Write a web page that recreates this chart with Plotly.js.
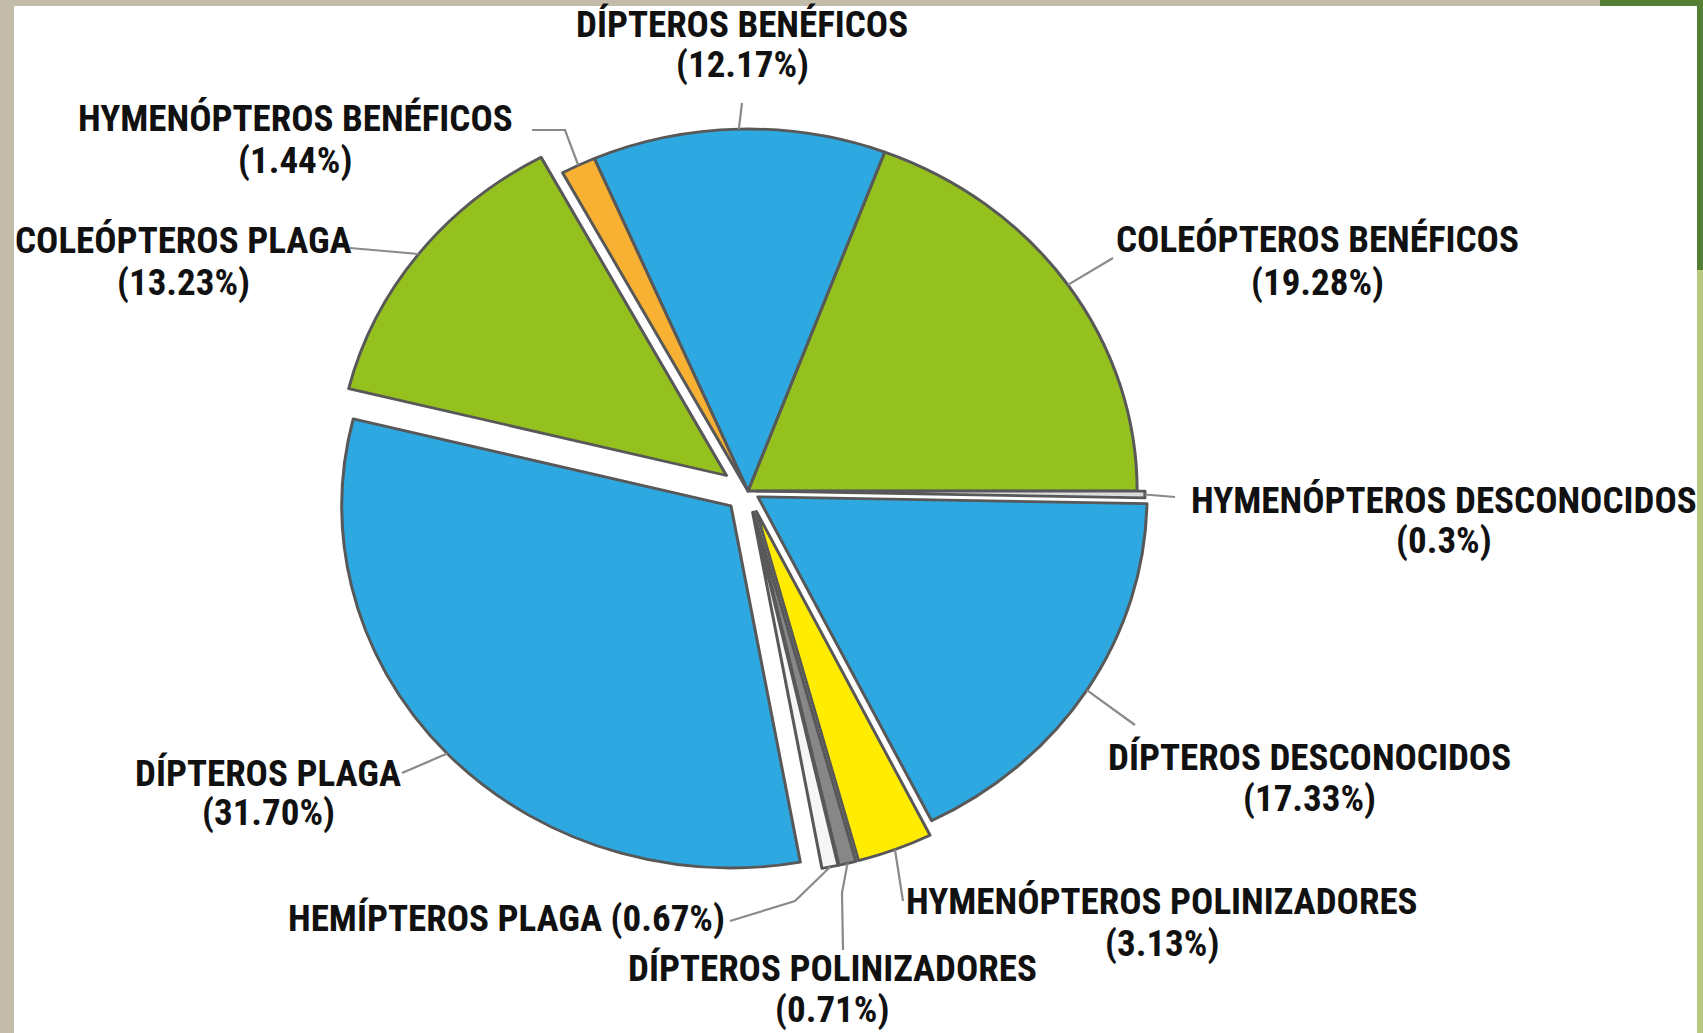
<!DOCTYPE html>
<html>
<head>
<meta charset="utf-8">
<script src="https://cdn.plot.ly/plotly-3.0.1.min.js"></script>
<style>
html,body{margin:0;padding:0;overflow:hidden;background:#c4bcab;}
#chart{width:1703px;height:1033px;}
</style>
</head>
<body>
<div id="chart"></div>
<script>
// ---------- data ----------
const labels = ["COLEÓPTEROS BENÉFICOS","DÍPTEROS BENÉFICOS","HYMENÓPTEROS BENÉFICOS","COLEÓPTEROS PLAGA","DÍPTEROS PLAGA","HEMÍPTEROS PLAGA","DÍPTEROS POLINIZADORES","HYMENÓPTEROS POLINIZADORES","DÍPTEROS DESCONOCIDOS","HYMENÓPTEROS DESCONOCIDOS"];
const values = [19.28, 12.17, 1.44, 13.23, 31.70, 0.67, 0.71, 3.13, 17.33, 0.3];
const percentText = ["19.28%","12.17%","1.44%","13.23%","31.70%","0.67%","0.71%","3.13%","17.33%","0.3%"];

// ---------- style ----------
const colors = ["#95c11f","#2ea8e0","#f8b133","#95c11f","#2ea8e0","#f6f6f6","#878787","#ffec00","#2ea8e0","#dcdcdc"];
const pulls  = [0, 0, 0, 0.07, 0.06, 0.06, 0.06, 0.06, 0.03, 0.02];
const oneLine = [false,false,false,false,false,true,false,false,false,false];
// label x centre, first-line y, second-line y (px)
const labelPos = [[1317,239,282],[742,24,65],[295,119,160],[183,241,282],[268,773,812],[506,918,0],[832,968,1009],[1162,901,943],[1309,757,798],[1444,500,540]];
// leader-line label ends / elbows (px)
const leaderStart = [
  [[1113,258]],
  [[742,103]],
  [[532,130],[565,130]],
  [[350,248]],
  [[402,773]],
  [[730,921],[795,901]],
  [[843,950],[842,893]],
  [[903,901]],
  [[1135,725]],
  [[1175,497]]
];

const W = 1703, H = 1033;
const CX = 748, CY = 491, R = 362, SX = 1.075;
const maxPull = Math.max.apply(null, pulls);
const half = R * (1 + maxPull);
const total = values.reduce((a,b)=>a+b,0);
const rotation = 90 - 360 * values[0] / total;

const FONT = '"Liberation Sans Narrow","Arial Narrow","Roboto Condensed","DejaVu Sans Condensed","Liberation Sans",sans-serif';
const FS = 37;

const trace = {
  type: 'pie',
  labels: labels,
  values: values,
  sort: false,
  direction: 'counterclockwise',
  rotation: rotation,
  pull: pulls,
  textinfo: 'none',
  hoverinfo: 'label+percent',
  marker: {colors: colors, line: {color: '#585858', width: 2.8}},
  domain: {x: [(CX-half)/W, (CX+half)/W], y: [1-(CY+half)/H, 1-(CY-half)/H]},
  showlegend: false
};

const px = x => x / W, py = y => 1 - y / H;

const annotations = [];
labels.forEach((l, i) => {
  const p = labelPos[i];
  const base = {xref:'paper', yref:'paper', xanchor:'center', yanchor:'middle', showarrow:false,
                font:{family:FONT, size:FS, color:'#111111', weight:700}};
  if (oneLine[i]) {
    annotations.push(Object.assign({}, base, {x:px(p[0]), y:py(p[1]), text: l + ' (' + percentText[i] + ')'}));
  } else {
    annotations.push(Object.assign({}, base, {x:px(p[0]), y:py(p[1]), text: l}));
    annotations.push(Object.assign({}, base, {x:px(p[0]), y:py(p[2]), text: '(' + percentText[i] + ')'}));
  }
});

const bgShapes = [
  {type:'rect', xref:'paper', yref:'paper', x0:px(14), x1:px(1697), y0:0, y1:py(6), layer:'below', fillcolor:'#ffffff', line:{width:0}},
  {type:'rect', xref:'paper', yref:'paper', x0:px(1697), x1:1, y0:py(270), y1:1, layer:'below', fillcolor:'#557f35', line:{width:0}},
  {type:'rect', xref:'paper', yref:'paper', x0:px(1697), x1:1, y0:0, y1:py(270), layer:'below', fillcolor:'#b9c97f', line:{width:0}},
  {type:'rect', xref:'paper', yref:'paper', x0:px(1600), x1:1, y0:py(6), y1:1, layer:'below', fillcolor:'#557f35', line:{width:0}}
];

const layout = {
  width: W, height: H,
  margin: {l:0, r:0, t:0, b:0},
  paper_bgcolor: '#c4bcab',
  plot_bgcolor: 'rgba(0,0,0,0)',
  showlegend: false,
  annotations: annotations,
  shapes: bgShapes
};

const gd = document.getElementById('chart');
let cx = CX, cy = CY;
function stretchPie() {
  const g = gd.querySelector('.pielayer');
  if (g) g.setAttribute('transform', 'translate(' + cx + ',' + cy + ') scale(' + SX + ',1) translate(' + (-cx) + ',' + (-cy) + ')');
}
Plotly.newPlot(gd, [trace], layout, {displayModeBar: false, staticPlot: true}).then(() => {
  let r = R, mids = null;
  const cd = gd.calcdata && gd.calcdata[0];
  if (cd && cd[0] && cd[0].r && cd[0].pxmid) {
    cx = cd[0].cx; cy = cd[0].cy; r = cd[0].r;
    mids = cd.map(p => p.pxmid);
  } else {
    mids = [];
    let a = rotation * Math.PI / 180 + 2 * Math.PI * values[0] / total;
    values.forEach(v => {
      const da = 2 * Math.PI * v / total;
      const m = a - da / 2;
      mids.push([r * Math.sin(m), -r * Math.cos(m)]);
      a -= da;
    });
  }
  const lines = [];
  labels.forEach((l, i) => {
    const k = 1 + pulls[i];
    const end = [cx + SX * k * mids[i][0], cy + k * mids[i][1]];
    const pts = leaderStart[i].concat([end]);
    const path = pts.map((p, j) => (j ? 'L' : 'M') + px(p[0]) + ',' + py(p[1])).join(' ');
    lines.push({type:'path', xref:'paper', yref:'paper', path: path, line:{color:'#8a8a8a', width:2.2}});
  });
  stretchPie();
  return Plotly.relayout(gd, {shapes: bgShapes.concat(lines)});
}).then(stretchPie);
</script>
</body>
</html>
